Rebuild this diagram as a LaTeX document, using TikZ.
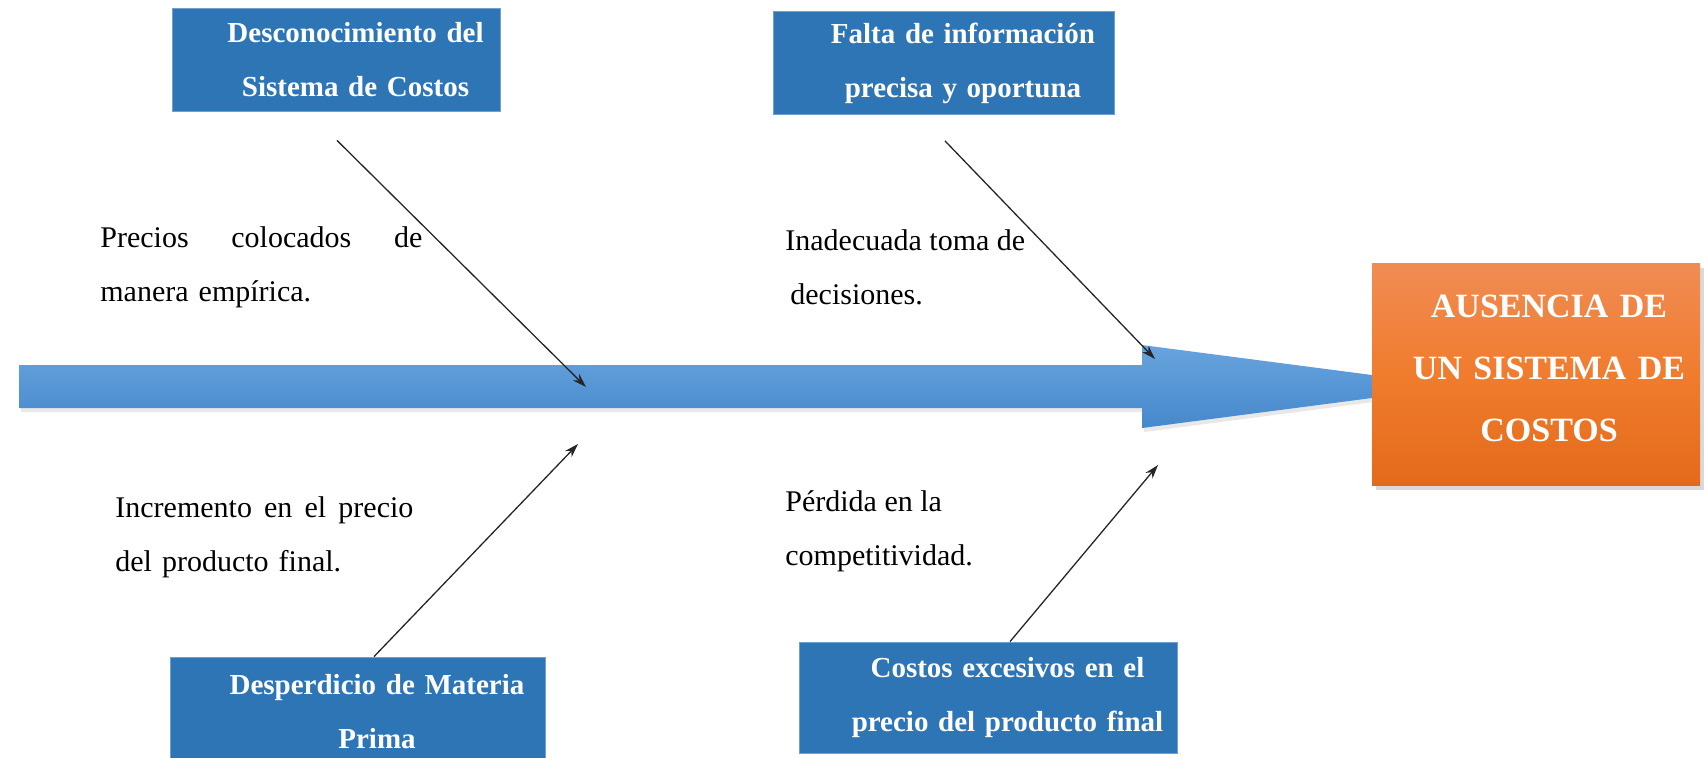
\documentclass[tikz,border=0pt]{standalone}
\usepackage{fontspec}
\setmainfont{Liberation Serif}
\usepackage{tikz}
\usetikzlibrary{arrows.meta, calc, shadows}

\definecolor{causeblue}{RGB}{46,117,182}
\definecolor{causeedge}{RGB}{110,160,210}
\definecolor{spinetop}{RGB}{104,164,222}
\definecolor{spinebot}{RGB}{70,136,204}
\definecolor{effecttop}{RGB}{240,140,84}
\definecolor{effectmid}{RGB}{240,124,46}
\definecolor{effectbot}{RGB}{228,106,26}

% text in the boxes sits a bit right of centre (end the text with \par)
\newcommand{\pushright}[1][19.5pt]{\advance\leftskip #1\relax}

\begin{document}
\begin{tikzpicture}[
  x=0.5pt, y=-0.5pt,
  >={Stealth[length=7pt,width=4.5pt]},
  cause/.style={
    rectangle, fill=causeblue, draw=causeedge, line width=0.4pt,
    text=white, align=center, inner sep=0pt,
    font=\fontsize{14.5}{27}\selectfont\bfseries,
    minimum height=51.5pt,
  },
  effect/.style={
    rectangle, top color=effecttop, bottom color=effectbot, middle color=effectmid,
    text=white, align=center, inner sep=0pt,
    font=\fontsize{17}{31}\selectfont\bfseries,
    minimum width=164pt, minimum height=111pt, text width=164pt,
    drop shadow={shadow xshift=2pt, shadow yshift=-2.5pt, opacity=0.3},
  },
  note/.style={inner sep=0pt, align=left, anchor=west, font=\fontsize{15}{27}\selectfont},
  branch/.style={->, line width=0.65pt, draw=black!85},
  spine/.style={
    top color=spinetop, bottom color=spinebot,
    drop shadow={shadow xshift=1pt, shadow yshift=-2pt, opacity=0.18},
  },
]
\useasboundingbox (0,0) rectangle (1704,757);

% --- Spine ---
\path[spine] (19,365) -- (1142,365) -- (1142,345) -- (1460,386.5)
  -- (1142,428) -- (1142,408) -- (19,408) -- cycle;

% --- Effect ---
\node[effect] (problem) at (1536,374)
  {\pushright[13pt]AUSENCIA DE\\UN SISTEMA DE\\COSTOS\par\vspace{5.4pt}};

% --- Causes ---
\node[cause, minimum width=164pt, text width=164pt] (knowledge) at (336,59.5)
  {\pushright Desconocimiento del\\Sistema de Costos\par};
\node[cause, minimum width=170.5pt, text width=170.5pt] (information) at (943.5,63)
  {\pushright Falta de información\\precisa y oportuna\par};
\node[cause, minimum width=187.5pt, text width=187.5pt, minimum height=55pt] (waste) at (357.5,712)
  {\pushright Desperdicio de Materia\\Prima\par};
\node[cause, minimum width=189pt, text width=189pt, minimum height=55.5pt] (costs) at (988,697.5)
  {\pushright Costos excesivos en el\\precio del producto final\par};

% --- Sub-causes ---
\node[note, text width=161pt] (empirical) at (100,267) {Precios\hfill colocados\hfill de\\manera empírica.};
\node[note] (decisions) at (785,267) {Inadecuada toma de\\\hspace*{2.5pt}decisiones.};
\node[note, text width=149pt] (price) at (115,537) {Incremento\hfill en\hfill el\hfill precio\\del producto final.};
\node[note] (competition) at (785,531) {Pérdida en la\\competitividad.};

% --- Branches ---
\coordinate (hit1) at (586,387);
\coordinate (hit2) at (1155,359);
\coordinate (hit3) at (578,444);
\coordinate (hit4) at (1158,465);

\draw[branch] ($(knowledge.south)+(1,29)$) -- (hit1);
\draw[branch] ($(information.south)+(1.5,26)$) -- (hit2);
\draw[branch] ($(waste.north)+(16.5,0)$) -- (hit3);
\draw[branch] ($(costs.north)+(22,0)$) -- (hit4);

\end{tikzpicture}
\end{document}
